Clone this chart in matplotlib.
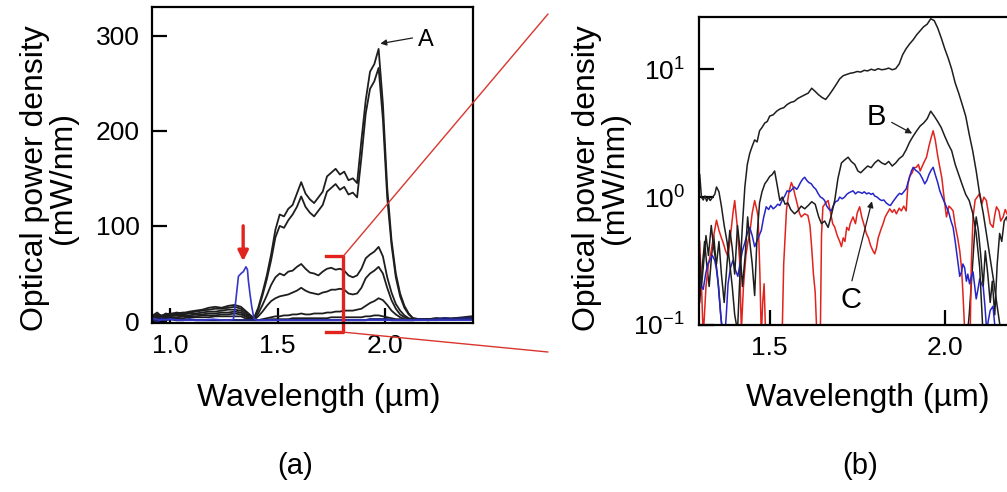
# two-panel optical spectrum figure: (a) linear scale, (b) log scale zoom
import matplotlib
matplotlib.use("Agg")
import matplotlib.pyplot as plt
from matplotlib.patches import ConnectionPatch
from matplotlib.ticker import NullLocator

plt.rcParams['font.family'] = ['Liberation Sans', 'DejaVu Sans']
plt.rcParams['mathtext.fontset'] = 'custom'
plt.rcParams['mathtext.rm'] = 'Liberation Sans'
plt.rcParams['mathtext.default'] = 'regular'

# ---------------- panel (a) data, mW/nm ----------------
wl_a = [0.92, 0.94, 0.96, 0.98, 1.00, 1.03, 1.06, 1.09, 1.12, 1.15, 1.18, 1.21, 1.24, 1.27, 1.30, 1.33, 1.35, 1.37, 1.39,
        1.41, 1.43, 1.45, 1.47, 1.49, 1.51, 1.53, 1.55, 1.57, 1.59, 1.61, 1.63, 1.65, 1.67, 1.69,
        1.71, 1.73, 1.75, 1.77, 1.79, 1.81, 1.83, 1.85, 1.87, 1.89, 1.91, 1.93, 1.95, 1.97, 1.99,
        2.01, 2.03, 2.05, 2.07, 2.09, 2.11, 2.13, 2.16, 2.20, 2.24, 2.28, 2.32, 2.36, 2.40]

a_curve1 = [6, 9, 5, 8, 7, 9, 8, 10, 11, 12, 14, 15, 14, 16, 17, 15, 11, 7, 3,
            14, 30, 48, 70, 96, 112, 110, 118, 122, 134, 146, 134, 128, 124, 130,
            136, 152, 156, 160, 154, 157, 148, 150, 145, 190, 232, 262, 270, 286, 228,
            140, 85, 50, 29, 16, 8, 3, 2, 2, 3, 2, 3, 4, 5]
a_curve2 = [5, 7, 6, 7, 8, 8, 9, 9, 10, 11, 12, 13, 13, 14, 15, 13, 10, 6, 3,
            12, 27, 44, 64, 88, 100, 98, 106, 112, 120, 131, 120, 114, 110, 116,
            122, 136, 140, 144, 138, 141, 133, 135, 130, 172, 218, 244, 252, 266, 212,
            130, 80, 46, 26, 14, 7, 3, 2, 2, 2, 3, 2, 3, 4]
a_curve3 = [4, 6, 5, 6, 6, 7, 7, 8, 8, 9, 10, 10, 11, 12, 12, 11, 8, 5, 2,
            8, 17, 27, 38, 46, 50, 48, 52, 53, 57, 60, 55, 51, 50, 48,
            52, 55, 56, 54, 55, 53, 48, 46, 48, 55, 66, 70, 73, 78, 68,
            46, 30, 18, 11, 6, 3, 2, 2, 2, 3, 2, 3, 3, 4]
a_curve4 = [3, 5, 4, 5, 5, 6, 6, 6, 7, 7, 8, 8, 9, 9, 10, 9, 6, 4, 1,
            5, 10, 16, 21, 24, 26, 27, 28, 30, 32, 35, 32, 30, 29, 28,
            30, 31, 33, 33, 34, 33, 29, 28, 29, 35, 45, 50, 53, 57, 50,
            35, 22, 13, 7, 4, 2, 2, 2, 2, 2, 3, 2, 3, 3]
a_curve5 = [2, 4, 3, 4, 4, 4, 5, 5, 5, 6, 6, 6, 7, 7, 8, 7, 5, 3, 1,
            1, 2, 3, 4, 5, 5, 6, 6, 7, 7, 8, 7, 7, 8, 8,
            8, 9, 9, 10, 10, 11, 11, 11, 12, 13, 16, 19, 21, 24, 22,
            17, 11, 7, 4, 2, 1, 1, 1, 2, 1, 2, 2, 2, 3]
a_curve6 = [1, 3, 2, 3, 3, 3, 3, 4, 4, 4, 4, 5, 5, 5, 5, 5, 3, 2, 1,
            1, 1, 1, 2, 2, 2, 2, 2, 3, 3, 3, 3, 3, 3, 3,
            3, 3, 4, 4, 4, 4, 4, 4, 4, 4, 5, 5, 6, 6, 5,
            4, 3, 2, 2, 1, 1, 1, 1, 1, 1, 2, 1, 2, 2]
a_navy = [2, -1, 3, 1, 2, 1, 1, 2, 1, 1, 1, 1, 1, 1, 1, 1, 1, 1, 1,
          1, 1, 1, 1, 1, 1, 1, 1, 1, 1, 1, 1, 1, 1, 1,
          1, 1, 1, 1, 1, 1, 1, 1, 1, 1, 1, 2, 2, 2, 2,
          2, 1, 1, 1, 1, 1, 1, 2, 1, 2, 3, 2, 3, 3]

wl_blue = [0.92, 0.95, 1.00, 1.05, 1.10, 1.15, 1.20, 1.25, 1.28, 1.295, 1.305, 1.318, 1.33, 1.341, 1.353,
           1.36, 1.364, 1.372, 1.38, 1.39, 1.40, 1.50, 1.60, 1.70, 1.80, 1.90, 2.00, 2.10, 2.20, 2.30, 2.40]
a_blue = [3, 1, 2, 1, 1, 1, 2, 1, 1, 2, 20, 47, 50, 52, 57,
          54, 43, 28, 15, 3, 1, 1, 1, 1, 1, 1, 1, 1, 1, 1, 1]

# ---------------- panel (b) data, mW/nm (log) ----------------
wl_b1 = [1.30, 1.305, 1.31, 1.315, 1.32, 1.325, 1.33, 1.337, 1.343, 1.348, 1.355, 1.362, 1.37, 1.378, 1.386, 1.393,
         1.40, 1.408, 1.415, 1.422, 1.429, 1.436, 1.443, 1.45, 1.457, 1.464, 1.471, 1.478, 1.486, 1.493,
         1.50, 1.51, 1.52, 1.53, 1.54, 1.55, 1.56, 1.57, 1.58, 1.59, 1.60, 1.61, 1.62, 1.63, 1.64, 1.65,
         1.66, 1.67, 1.68, 1.69, 1.70, 1.71, 1.72, 1.73, 1.74, 1.75, 1.76, 1.77, 1.78, 1.79, 1.80, 1.81,
         1.82, 1.83, 1.84, 1.85, 1.86, 1.87, 1.88, 1.89, 1.90, 1.91, 1.92, 1.93, 1.94, 1.95, 1.96, 1.97,
         1.98, 1.99, 2.00, 2.01, 2.02, 2.03, 2.04, 2.05, 2.06, 2.07, 2.08, 2.09, 2.10, 2.11, 2.12, 2.13,
         2.14, 2.15, 2.16, 2.17]
b_top = [1.5, 1.0, 0.95, 1.02, 0.93, 1.0, 0.94, 1.0, 1.05, 1.2, 1.1, 0.85, 0.6, 0.45, 0.3, 0.2,
         0.12, 0.09, 0.25, 0.6, 1.2, 1.8, 2.2, 2.5, 2.8, 2.7, 3.3, 3.5, 3.8, 3.9,
         4.3, 4.4, 4.7, 4.9, 5.0, 5.3, 5.5, 5.6, 5.9, 6.1, 6.3, 6.5, 7.1, 6.7, 6.3, 6.0,
         5.8, 6.3, 6.9, 7.6, 8.4, 8.9, 9.1, 9.3, 9.4, 9.6, 9.5, 9.8, 9.7, 10.0, 9.8, 10.1,
         9.9, 10.0, 10.2, 9.9, 10.1, 11.0, 13.0, 14.5, 15.8, 17.0, 18.6, 20.0, 21.5, 22.5, 24.8, 24.0,
         21.0, 17.6, 14.5, 12.2, 10.0, 7.8, 6.5, 5.3, 4.3, 3.1, 2.3, 1.6, 1.05, 0.75, 0.5, 0.33,
         0.22, 0.14, 0.09, 0.06]

wl_b2 = [1.30, 1.305, 1.31, 1.318, 1.325, 1.333, 1.34, 1.348, 1.355, 1.362, 1.37, 1.378, 1.386, 1.393, 1.40,
         1.408, 1.415, 1.422, 1.43, 1.437, 1.443, 1.45, 1.457, 1.464, 1.471, 1.478, 1.486, 1.493, 1.50,
         1.507, 1.514, 1.52, 1.529, 1.536, 1.544, 1.552, 1.56, 1.571, 1.58, 1.59, 1.60, 1.61, 1.62, 1.63,
         1.64, 1.648, 1.657, 1.667, 1.676, 1.686, 1.695, 1.705, 1.714, 1.724, 1.733, 1.743, 1.752, 1.76,
         1.77, 1.78, 1.79, 1.80, 1.81, 1.82, 1.83, 1.84, 1.85, 1.86, 1.87, 1.88, 1.89, 1.90, 1.91, 1.92,
         1.93, 1.94, 1.95, 1.96, 1.97, 1.98, 1.99, 2.00, 2.01, 2.02, 2.03, 2.04, 2.05, 2.06, 2.07, 2.08,
         2.09, 2.10, 2.105, 2.11]
b_mid = [0.35, 0.2, 0.28, 0.5, 0.35, 0.6, 0.4, 0.3, 0.45, 0.25, 0.15, 0.3, 0.55, 0.4, 0.25,
         0.6, 0.4, 0.2, 0.35, 0.7, 0.45, 0.3, 0.17, 0.5, 0.9, 1.1, 1.27, 1.35, 1.45,
         1.5, 1.6, 1.3, 0.94, 1.0, 0.88, 0.9, 0.8, 0.74, 0.78, 0.85, 0.81, 0.86, 0.92, 0.88,
         0.7, 0.62, 0.65, 0.58, 0.72, 0.95, 1.4, 1.85, 1.95, 2.05, 1.9, 1.8, 1.6, 1.55,
         1.65, 1.75, 1.7, 1.85, 1.95, 1.85, 1.8, 1.9, 1.75, 1.85, 2.0, 2.1, 2.35, 2.7, 3.0, 3.3,
         3.6, 3.8, 4.1, 4.7, 4.3, 3.9, 3.5, 3.0, 2.6, 2.3, 1.8, 1.5, 1.25, 1.05, 0.94, 0.75,
         0.52, 0.28, 0.15, 0.08]

wl_b3 = [1.30, 1.307, 1.314, 1.32, 1.327, 1.334, 1.34, 1.347, 1.354, 1.36, 1.367, 1.374, 1.39, 1.70,
         2.05, 2.06, 2.07, 2.078, 2.085, 2.09, 2.096, 2.103, 2.11, 2.116, 2.123, 2.13, 2.136, 2.143,
         2.15, 2.157, 2.163, 2.17, 2.177, 2.185]
b_low = [0.15, 0.28, 0.45, 0.3, 0.2, 0.35, 0.5, 0.3, 0.2, 0.12, 0.08, 0.06, 0.05, 0.05,
         0.05, 0.06, 0.12, 0.25, 0.5, 0.7, 0.55, 0.35, 0.2, 0.38, 0.25, 0.15, 0.22, 0.12,
         0.3, 0.52, 0.45, 0.65, 0.7, 0.55]

wl_red = [1.30, 1.305, 1.31, 1.318, 1.325, 1.333, 1.34, 1.348, 1.355, 1.362, 1.367, 1.374, 1.381, 1.388,
          1.395, 1.40, 1.407, 1.414, 1.419, 1.425, 1.432, 1.438, 1.443, 1.45, 1.457, 1.463, 1.467, 1.472,
          1.476, 1.48, 1.484, 1.488, 1.50, 1.52, 1.535, 1.54, 1.548, 1.555, 1.562, 1.567, 1.571, 1.578,
          1.585, 1.59, 1.60, 1.609, 1.615, 1.62, 1.625, 1.63, 1.635, 1.64, 1.645, 1.648, 1.652, 1.66,
          1.667, 1.674, 1.68, 1.686, 1.693, 1.70, 1.705, 1.71, 1.715, 1.72, 1.726, 1.73, 1.738, 1.745,
          1.75, 1.757, 1.763, 1.77, 1.776, 1.782, 1.788, 1.795, 1.80, 1.805, 1.81, 1.817, 1.824, 1.83,
          1.836, 1.843, 1.85, 1.856, 1.862, 1.87, 1.876, 1.883, 1.89, 1.895, 1.90, 1.907, 1.913, 1.919,
          1.925, 1.93, 1.936, 1.942, 1.948, 1.955, 1.961, 1.967, 1.973, 1.98, 1.986, 1.992, 1.998, 2.005,
          2.012, 2.018, 2.024, 2.03, 2.037, 2.043, 2.048, 2.052, 2.058, 2.065, 2.072, 2.076, 2.081, 2.087,
          2.093, 2.10, 2.106, 2.112, 2.119, 2.125, 2.13, 2.138, 2.143, 2.148, 2.155, 2.16, 2.167, 2.173,
          2.18, 2.19]
b_red = [0.45, 0.21, 0.08, 0.2, 0.3, 0.38, 0.5, 0.66, 0.55, 0.48, 0.44, 0.38, 0.34, 0.5,
         0.75, 0.94, 0.6, 0.32, 0.09, 0.2, 0.35, 0.45, 0.52, 0.75, 0.94, 0.8, 0.7, 0.25,
         0.08, 0.15, 0.21, 0.09, 0.06, 0.06, 0.07, 0.3, 0.8, 1.1, 1.3, 1.2, 1.07, 0.9,
         0.75, 0.7, 0.74, 0.72, 0.6, 0.4, 0.25, 0.18, 0.08, 0.05, 0.1, 0.5, 0.84, 0.9,
         0.94, 0.75, 0.62, 0.58, 0.5, 0.45, 0.41, 0.48, 0.45, 0.58, 0.55, 0.62, 0.7, 0.62,
         0.75, 0.84, 0.7, 0.6, 0.52, 0.48, 0.42, 0.38, 0.36, 0.4, 0.48, 0.55, 0.62, 0.7,
         0.75, 0.81, 0.76, 0.8, 0.74, 0.82, 0.78, 0.85, 0.78, 1.27, 1.45, 1.55, 1.7, 1.71,
         1.8, 1.6, 1.75, 1.9, 2.05, 2.5, 2.9, 3.3, 2.8, 2.1, 1.71, 1.4, 1.0, 0.7,
         0.85, 0.82, 0.78, 0.6, 0.48, 0.38, 0.28, 0.18, 0.08, 0.05, 0.06, 0.3, 0.7, 0.95,
         1.0, 1.07, 0.88, 1.0, 0.94, 0.75, 0.62, 0.58, 0.72, 0.84, 0.78, 0.65, 0.7, 0.8,
         0.72, 0.75]

wl_blu = [1.30, 1.305, 1.31, 1.317, 1.323, 1.329, 1.336, 1.343, 1.348, 1.352, 1.358, 1.364, 1.37, 1.376,
          1.381, 1.388, 1.395, 1.402, 1.409, 1.415, 1.422, 1.429, 1.436, 1.443, 1.45, 1.457, 1.463, 1.47,
          1.476, 1.483, 1.49, 1.497, 1.503, 1.51, 1.517, 1.523, 1.529, 1.536, 1.543, 1.55, 1.557, 1.564,
          1.57, 1.577, 1.581, 1.588, 1.594, 1.60, 1.606, 1.612, 1.619, 1.625, 1.632, 1.638, 1.645, 1.651,
          1.657, 1.663, 1.67, 1.676, 1.682, 1.688, 1.695, 1.70, 1.707, 1.714, 1.72, 1.726, 1.732, 1.738,
          1.745, 1.752, 1.758, 1.764, 1.77, 1.777, 1.783, 1.79, 1.795, 1.80, 1.807, 1.814, 1.82, 1.826,
          1.833, 1.84, 1.845, 1.852, 1.858, 1.864, 1.871, 1.877, 1.883, 1.89, 1.895, 1.90, 1.905, 1.91,
          1.917, 1.923, 1.929, 1.936, 1.943, 1.949, 1.955, 1.961, 1.967, 1.973, 1.98, 1.986, 1.993, 2.00,
          2.005, 2.012, 2.018, 2.024, 2.03, 2.037, 2.043, 2.048, 2.052, 2.057, 2.062, 2.066, 2.071, 2.076,
          2.081, 2.086, 2.09, 2.095, 2.10, 2.105, 2.11, 2.115, 2.12, 2.125, 2.13, 2.138, 2.143, 2.15, 2.16]
b_blue = [0.25, 0.2, 0.19, 0.25, 0.3, 0.32, 0.35, 0.32, 0.27, 0.22, 0.14, 0.09, 0.07, 0.12,
          0.21, 0.28, 0.32, 0.27, 0.24, 0.3, 0.38, 0.44, 0.52, 0.58, 0.5, 0.41, 0.45, 0.5,
          0.55, 0.7, 0.84, 0.8, 0.86, 0.81, 0.84, 0.88, 0.86, 0.95, 1.02, 1.12, 1.1, 1.15,
          1.2, 1.15, 1.19, 1.3, 1.38, 1.43, 1.35, 1.3, 1.27, 1.2, 1.15, 1.07, 1.0, 0.98,
          0.94, 0.85, 0.8, 0.78, 0.86, 0.92, 0.94, 1.0, 0.97, 1.0, 1.05, 1.08, 1.1, 1.12,
          1.06, 1.1, 1.09, 1.07, 1.1, 1.06, 1.08, 1.05, 1.07, 1.02, 1.0, 0.96, 0.94, 0.95,
          0.9, 0.87, 0.86, 0.92, 0.97, 1.02, 1.07, 1.05, 1.1, 1.16, 1.3, 1.45, 1.6, 1.71,
          1.62, 1.58, 1.52, 1.4, 1.27, 1.35, 1.5, 1.62, 1.71, 1.5, 1.3, 1.12, 1.0, 0.9,
          0.84, 0.75, 0.65, 0.58, 0.45, 0.32, 0.24, 0.26, 0.3, 0.28, 0.22, 0.25, 0.21, 0.24,
          0.26, 0.2, 0.16, 0.19, 0.23, 0.21, 0.2, 0.14, 0.09, 0.11, 0.13, 0.14, 0.1, 0.07, 0.05]

black = '#1e1e1e'
red = '#e0231c'
blue = '#2626c8'

fig = plt.figure(figsize=(10.07, 4.92), dpi=100)

# ---------------- (a) ----------------
ax1 = fig.add_axes([152 / 1007, 1 - 323 / 492, 321 / 1007, 316 / 492])
for curve in [a_curve6, a_curve5, a_curve4, a_curve3, a_curve2, a_curve1]:
    ax1.plot(wl_a, curve, color=black, lw=1.3)
ax1.plot(wl_a, a_navy, color='#1c2478', lw=1.6)
ax1.plot(wl_blue, a_blue, color='#3636c8', lw=1.2)
ax1.set_xlim(0.916, 2.409)
ax1.set_ylim(-2, 330)
ax1.set_xticks([1.0, 1.5, 2.0])
ax1.set_xticklabels(['1.0', '1.5', '2.0'])
ax1.set_yticks([0, 100, 200, 300])
ax1.tick_params(direction='in', length=11, width=1.6, labelsize=19)
ax1.tick_params(axis='x', pad=8)
ax1.tick_params(axis='y', pad=9)
for s in ax1.spines.values():
    s.set_linewidth(1.6)

ax1.annotate('A', xy=(1.965, 291), xytext=(2.19, 295), ha='center', va='center', fontsize=17,
             arrowprops=dict(arrowstyle='-|>', color=black, lw=0.9, mutation_scale=9, relpos=(0, 0.65)))
# red arrow pointing at the blue peak
ax1.annotate('', xy=(1.34, 60), xytext=(1.34, 103),
             arrowprops=dict(arrowstyle='-|>', color=red, lw=2.4, mutation_scale=15))
# red bracket marking the zoomed region
ax1.plot([1.726, 1.805, 1.805, 1.726], [68, 68, -11.6, -11.6], color=red, lw=2.4, clip_on=False)
for yb, fy in [(68, 1 - 14 / 492), (-11.6, 1 - 352 / 492)]:
    con = ConnectionPatch(xyA=(1.805, yb), coordsA=ax1.transData, xyB=(548 / 1007, fy),
                          coordsB=fig.transFigure, color='#d8362e', lw=1.0)
    fig.add_artist(con)

# ---------------- (b) ----------------
x_lo, x_hi = 1.298, 2.25
ax2 = fig.add_axes([699 / 1007, 1 - 325 / 492, (x_hi - x_lo) * 350 / 1007, 308 / 492])
ax2.plot(wl_b3, b_low, color=black, lw=1.1)
ax2.plot(wl_red, b_red, color=red, lw=1.1)
ax2.plot(wl_blu, b_blue, color=blue, lw=1.1)
ax2.plot(wl_b2, b_mid, color=black, lw=1.1)
ax2.plot(wl_b1, b_top, color=black, lw=1.1)
ax2.set_yscale('log')
ax2.set_xlim(x_lo, x_hi)
ax2.set_ylim(0.1, 25.6)
ax2.set_xticks([1.5, 2.0])
ax2.set_xticklabels(['1.5', '2.0'])
ax2.set_yticks([0.1, 1, 10])
ax2.set_yticklabels(['10$^{-1}$', '10$^{0}$', '10$^{1}$'])
ax2.yaxis.set_minor_locator(NullLocator())
ax2.tick_params(direction='in', length=11, width=1.6, labelsize=19)
ax2.tick_params(axis='x', pad=8)
ax2.tick_params(axis='y', pad=10)
for s in ax2.spines.values():
    s.set_linewidth(1.6)

ax2.annotate('B', xy=(1.914, 3.07), xytext=(1.806, 4.25), ha='center', va='center', fontsize=21,
             arrowprops=dict(arrowstyle='-|>', color=black, lw=0.9, mutation_scale=9, relpos=(1, 0.4)))
ax2.annotate('C', xy=(1.794, 0.975), xytext=(1.731, 0.156), ha='center', va='center', fontsize=21,
             arrowprops=dict(arrowstyle='-|>', color=black, lw=0.9, mutation_scale=9, relpos=(0.5, 1)))

# ---------------- labels ----------------
ylab = 'Optical power density\n(mW/nm)'
fig.text(49 / 1007, 1 - 178 / 492, ylab, rotation=90, ha='center', va='center', fontsize=23,
         linespacing=0.95, multialignment='center')
fig.text(601 / 1007, 1 - 178 / 492, ylab, rotation=90, ha='center', va='center', fontsize=23,
         linespacing=0.95, multialignment='center')
fig.text(319 / 1007, 1 - 398 / 492, 'Wavelength (µm)', ha='center', va='center', fontsize=23)
fig.text(868 / 1007, 1 - 398 / 492, 'Wavelength (µm)', ha='center', va='center', fontsize=23)
fig.text(295 / 1007, 1 - 466 / 492, '(a)', ha='center', va='center', fontsize=21)
fig.text(860 / 1007, 1 - 466 / 492, '(b)', ha='center', va='center', fontsize=21)

fig.savefig('out.png', dpi=100)
